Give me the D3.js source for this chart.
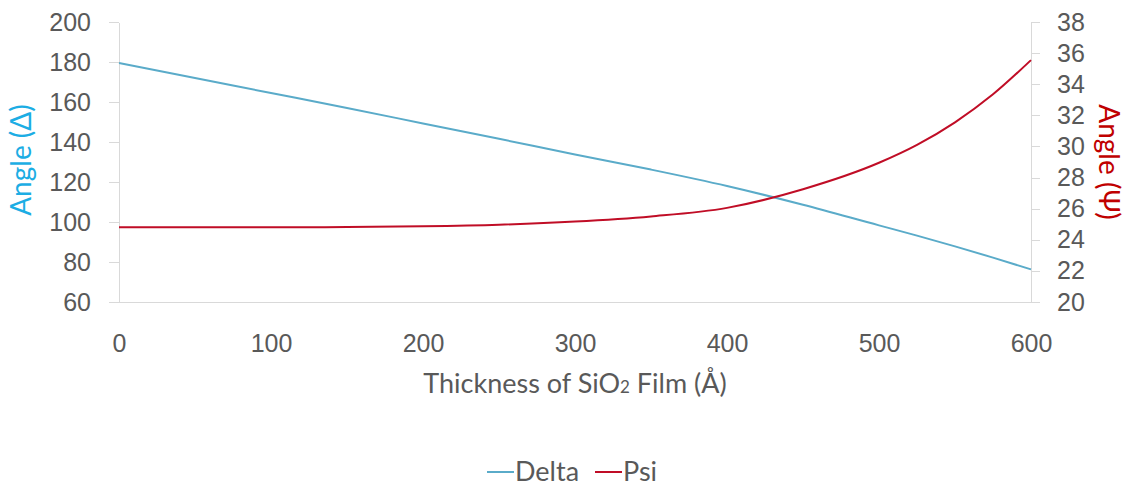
<!DOCTYPE html>
<meta charset="utf-8">
<script src="https://d3js.org/d3.v7.min.js"></script>
<style>
body { margin: 0; background: #fff; }
svg { font-family: Lato, "Open Sans", sans-serif; }
.axis path, .axis line { stroke: #d9d9d9; stroke-width: 1px; shape-rendering: crispEdges; }
.axis text { fill: #595959; font-size: 25px; }
.line { fill: none; stroke-width: 2px; }
</style>
<body></body>
<script>
// thickness of SiO2 film (Angstrom)
var thickness = [0, 50, 100, 150, 200, 250, 300, 350, 400, 450, 500, 525, 550, 575, 600];
// ellipsometric angles
var delta = [179.5, 172, 164.5, 157, 149.3, 141.6, 133.8, 126.2, 118, 108.6, 98.3, 93.2, 87.8, 82.2, 76.3];
var psi = [24.8, 24.8, 24.8, 24.82, 24.87, 24.97, 25.17, 25.5, 26.05, 27.25, 28.95, 30.1, 31.55, 33.35, 35.55];

var xTicks = [0, 100, 200, 300, 400, 500, 600];
var leftTicks = [60, 80, 100, 120, 140, 160, 180, 200];
var rightTicks = [20, 22, 24, 26, 28, 30, 32, 34, 36, 38];

var width = 1129, height = 489;
var margin = {top: 22, right: 98, bottom: 187, left: 119};
var innerW = width - margin.left - margin.right,
    innerH = height - margin.top - margin.bottom;

var deltaColor = '#5aabc9', psiColor = '#c00d26';

var svg = d3.select('body').append('svg')
    .attr('width', width)
    .attr('height', height);

var g = svg.append('g')
    .attr('transform', 'translate(' + margin.left + ',' + margin.top + ')');

var xScale = d3.scaleLinear().domain([0, 600]).range([0, innerW]);
var yLeft = d3.scaleLinear().domain([60, 200]).range([innerH, 0]);
var yRight = d3.scaleLinear().domain([20, 38]).range([innerH, 0]);

// axes
g.append('g')
    .attr('class', 'x axis')
    .attr('transform', 'translate(0,' + innerH + ')')
    .call(d3.axisBottom(xScale).tickValues(xTicks).tickSize(0).tickPadding(32));

g.append('g')
    .attr('class', 'y axis')
    .call(d3.axisLeft(yLeft).tickValues(leftTicks).tickSizeInner(10).tickSizeOuter(0).tickPadding(18));

g.append('g')
    .attr('class', 'y2 axis')
    .attr('transform', 'translate(' + innerW + ',0)')
    .call(d3.axisRight(yRight).tickValues(rightTicks).tickSizeInner(9).tickSizeOuter(0).tickPadding(17));

// lines
var data = thickness.map(function(t, i) { return {t: t, delta: delta[i], psi: psi[i]}; });

var deltaLine = d3.line()
    .x(function(d) { return xScale(d.t); })
    .y(function(d) { return yLeft(d.delta); })
    .curve(d3.curveMonotoneX);

var psiLine = d3.line()
    .x(function(d) { return xScale(d.t); })
    .y(function(d) { return yRight(d.psi); })
    .curve(d3.curveMonotoneX);

g.append('path')
    .attr('class', 'line')
    .style('stroke', deltaColor)
    .attr('d', deltaLine(data));

g.append('path')
    .attr('class', 'line')
    .style('stroke', psiColor)
    .attr('d', psiLine(data));

// axis titles
var xTitle = svg.append('text')
    .attr('x', margin.left + innerW / 2)
    .attr('y', 393)
    .attr('text-anchor', 'middle')
    .style('font-size', '27px')
    .style('fill', '#595959');
xTitle.append('tspan').text('Thickness of SiO');
xTitle.append('tspan').style('font-size', '17px').text('2');
xTitle.append('tspan').text(' Film (Å)');

svg.append('text')
    .attr('transform', 'translate(31,160) rotate(-90)')
    .attr('text-anchor', 'middle')
    .style('font-size', '28px')
    .style('fill', '#1cade4')
    .text('Angle (Δ)');

svg.append('text')
    .attr('transform', 'translate(1099,162) rotate(90)')
    .attr('text-anchor', 'middle')
    .style('font-size', '28px')
    .style('fill', '#c00000')
    .text('Angle (Ψ)');

// legend
var legendItems = [
  {name: 'Delta', color: deltaColor, x: 487},
  {name: 'Psi', color: psiColor, x: 595}
];
var legend = svg.selectAll('.legendItem')
    .data(legendItems)
  .enter().append('g')
    .attr('class', 'legendItem')
    .attr('transform', function(d) { return 'translate(' + d.x + ',472)'; });

legend.append('line')
    .attr('x1', 0).attr('x2', 27)
    .style('stroke', function(d) { return d.color; })
    .style('stroke-width', 2);

legend.append('text')
    .attr('x', 28)
    .attr('dy', '0.35em')
    .style('font-size', '27px')
    .style('fill', '#595959')
    .text(function(d) { return d.name; });
</script>
